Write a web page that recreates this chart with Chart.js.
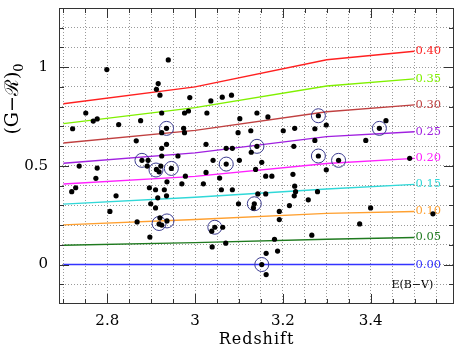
<!DOCTYPE html>
<html>
<head>
<meta charset="utf-8">
<script src="https://cdn.jsdelivr.net/npm/chart.js@4.4.1/dist/chart.umd.min.js"></script>
<style>
  html, body { margin: 0; padding: 0; background: #fff; }
  #wrap { width: 464px; height: 350px; }
</style>
</head>
<body>
<div id="wrap"><canvas id="chart" width="464" height="350"></canvas></div>
<script>
// galaxies: redshift and (G-R)0 colour
const dotZ = [
  2.939, 2.799, 2.916, 2.912, 2.920, 2.988, 2.751, 2.768, 2.777, 2.826,
  2.876, 2.924, 2.976, 2.985, 2.721, 2.935, 2.924, 2.974, 2.976, 2.866,
  2.935, 2.924, 2.924, 2.961, 2.879, 2.893, 2.736, 2.777, 2.891, 2.922,
  2.946, 2.912, 2.918, 3.036, 3.062, 3.083, 3.027, 3.102, 3.141, 3.166,
  3.098, 3.127, 3.201, 3.227, 3.273, 3.281, 3.025, 3.071, 3.085, 3.141,
  3.128, 3.225, 3.273, 3.041, 3.071, 3.101, 3.152, 3.138, 3.281, 3.299,
  3.420, 3.435, 3.389, 3.327, 3.489, 3.299,
  2.774, 2.978, 2.970, 2.728, 2.719, 2.896, 2.910, 2.930, 2.936, 2.935,
  2.915, 2.820, 2.899, 2.910, 2.806, 2.868, 2.920, 2.918, 2.924, 2.936,
  2.897, 3.025, 3.161, 3.175, 3.223, 3.019, 3.056, 3.060, 3.085, 3.227,
  3.229, 3.226, 3.279, 3.258, 3.143, 3.161, 3.099, 3.135, 3.133, 3.215,
  3.192, 3.192, 3.045, 3.038, 3.063, 3.181, 3.266, 3.070, 3.039, 3.162,
  3.188, 3.152, 3.162, 3.400, 3.375, 3.542
];
const dotColor = [
  1.037, 0.988, 0.917, 0.888, 0.858, 0.846, 0.768, 0.727, 0.738, 0.709,
  0.729, 0.768, 0.768, 0.778, 0.688, 0.690, 0.668, 0.690, 0.668, 0.627,
  0.609, 0.589, 0.550, 0.550, 0.528, 0.528, 0.499, 0.489, 0.499, 0.499,
  0.487, 0.482, 0.470, 0.829, 0.848, 0.858, 0.768, 0.739, 0.768, 0.748,
  0.668, 0.678, 0.678, 0.690, 0.688, 0.754, 0.609, 0.589, 0.589, 0.599,
  0.569, 0.599, 0.629, 0.528, 0.509, 0.528, 0.518, 0.482, 0.550, 0.707,
  0.690, 0.729, 0.629, 0.528, 0.538, 0.480,
  0.437, 0.448, 0.409, 0.389, 0.369, 0.389, 0.379, 0.379, 0.419, 0.348,
  0.338, 0.348, 0.308, 0.287, 0.269, 0.216, 0.237, 0.205, 0.200, 0.221,
  0.139, 0.467, 0.448, 0.448, 0.457, 0.409, 0.438, 0.379, 0.379, 0.397,
  0.369, 0.348, 0.369, 0.328, 0.358, 0.358, 0.308, 0.308, 0.287, 0.299,
  0.269, 0.228, 0.189, 0.169, 0.189, 0.128, 0.149, 0.108, 0.089, 0.057,
  0.068, 0.000, -0.051, 0.287, 0.206, 0.257
];

// objects marked with an open circle
const ringZ = [2.935, 2.879, 2.911, 2.946, 3.071, 3.141, 3.281, 3.281, 3.327, 3.420,
               2.918, 2.936, 3.045, 3.135, 3.152];
const ringColor = [0.690, 0.528, 0.479, 0.487, 0.509, 0.599, 0.754, 0.550, 0.528, 0.690,
                   0.208, 0.221, 0.189, 0.308, 0.000];

// model tracks, one per E(B-V)
const trackZ = [2.7, 3.0, 3.3, 3.5];
const ebvLabels = ['0.00', '0.05', '0.10', '0.15', '0.20', '0.25', '0.30', '0.35', '0.40'];
const ebvTracks = [
  [0.000, 0.000, 0.000, 0.000],
  [0.098, 0.111, 0.128, 0.137],
  [0.201, 0.228, 0.259, 0.269],
  [0.306, 0.341, 0.383, 0.406],
  [0.408, 0.447, 0.512, 0.538],
  [0.513, 0.566, 0.648, 0.673],
  [0.616, 0.680, 0.774, 0.809],
  [0.714, 0.795, 0.905, 0.941],
  [0.815, 0.900, 1.038, 1.081]
];
const ebvColors = ['#3333ff', '#1f7a1f', '#ffa030', '#30d8d8', '#ff20ff',
                   '#a020e0', '#c04040', '#80f000', '#ff2020'];

const xTickValues = [2.8, 3.0, 3.2, 3.4];
const xTickLabels = ['2.8', '3', '3.2', '3.4'];
const yTickValues = [0, 0.5, 1];
const yTickLabels = ['0', '0.5', '1'];

const SERIF = '"DejaVu Serif", serif';

function pickLabel(v, values, labels) {
  for (let i = 0; i < values.length; i++) {
    if (Math.abs(v - values[i]) < 1e-6) return labels[i];
  }
  return '';
}

const datasets = [
  {
    label: 'galaxies',
    data: dotZ.map((z, i) => ({ x: z, y: dotColor[i] })),
    pointRadius: 2.6,
    pointBackgroundColor: '#000',
    pointBorderWidth: 0,
    showLine: false
  },
  {
    label: 'marked',
    data: ringZ.map((z, i) => ({ x: z, y: ringColor[i] })),
    pointRadius: 7,
    pointBackgroundColor: 'rgba(0,0,0,0)',
    pointBorderColor: '#3c3c90',
    pointBorderWidth: 1,
    showLine: false
  }
];
ebvTracks.forEach((vals, k) => {
  datasets.push({
    label: 'E(B-V)=' + ebvLabels[k],
    ebv: ebvLabels[k],
    data: trackZ.map((z, i) => ({ x: z, y: vals[i] })),
    borderColor: ebvColors[k],
    borderWidth: 1.4,
    pointRadius: 0,
    showLine: true,
    tension: 0
  });
});

const decor = {
  id: 'decor',
  afterDatasetDraw(chart, args) {
    const ds = chart.data.datasets[args.index];
    if (!ds.ebv) return;
    const { ctx, scales: { x, y } } = chart;
    const last = ds.data[ds.data.length - 1];
    ctx.save();
    ctx.font = '11.5px ' + SERIF;
    ctx.fillStyle = ds.borderColor;
    ctx.textAlign = 'left';
    ctx.textBaseline = 'middle';
    ctx.fillText(ds.ebv, x.getPixelForValue(last.x) + 1, y.getPixelForValue(last.y));
    ctx.restore();
  },
  afterDraw(chart) {
    const { ctx, chartArea: a, scales: { x, y } } = chart;
    ctx.save();
    ctx.strokeStyle = '#333';
    ctx.lineWidth = 1;
    ctx.strokeRect(Math.round(a.left) + 0.5, Math.round(a.top) + 0.5,
                   Math.round(a.width) - 1, Math.round(a.height) - 1);

    // inward tick marks on all four sides
    ctx.beginPath();
    for (let i = 54; i <= 71; i++) {
      const px = Math.round(x.getPixelForValue(i * 0.05)) + 0.5;
      const len = i % 4 === 0 ? 10 : 5;
      ctx.moveTo(px, a.bottom); ctx.lineTo(px, a.bottom - len);
      ctx.moveTo(px, a.top); ctx.lineTo(px, a.top + len);
    }
    for (let j = -1; j <= 12; j++) {
      const py = Math.round(y.getPixelForValue(j * 0.1)) + 0.5;
      const len = j % 5 === 0 ? 10 : 5;
      ctx.moveTo(a.left, py); ctx.lineTo(a.left + len, py);
      ctx.moveTo(a.right, py); ctx.lineTo(a.right - len, py);
    }
    ctx.stroke();

    // axis titles
    ctx.fillStyle = '#000';
    ctx.font = '16px ' + SERIF;
    ctx.textAlign = 'center';
    ctx.textBaseline = 'middle';
    ctx.letterSpacing = '1px';
    ctx.fillText('Redshift', (a.left + a.right) / 2, 340);
    ctx.letterSpacing = '0px';

    ctx.save();
    ctx.translate(13, 99);
    ctx.rotate(-Math.PI / 2);
    const main = '(G\u2212\u211B)';
    ctx.font = '19px ' + SERIF;
    const w = ctx.measureText(main).width;
    ctx.font = '13px ' + SERIF;
    const sw = ctx.measureText('0').width;
    const start = -(w + sw) / 2;
    ctx.textAlign = 'left';
    ctx.font = '19px ' + SERIF;
    ctx.fillText(main, start, 0);
    ctx.font = '13px ' + SERIF;
    ctx.fillText('0', start + w, 7);
    ctx.restore();

    ctx.font = '11px ' + SERIF;
    ctx.textAlign = 'center';
    ctx.fillText('E(B\u2212V)', x.getPixelForValue(3.495), y.getPixelForValue(-0.105));
    ctx.restore();
  }
};

new Chart(document.getElementById('chart'), {
  type: 'scatter',
  data: { datasets },
  options: {
    responsive: false,
    animation: false,
    devicePixelRatio: 1,
    layout: { padding: { top: 8, right: 10, left: 0, bottom: 0 } },
    plugins: { legend: { display: false }, tooltip: { enabled: false } },
    scales: {
      x: {
        type: 'linear',
        min: 2.69,
        max: 3.59,
        afterBuildTicks(scale) {
          const t = [];
          for (let i = 54; i <= 71; i++) t.push({ value: i * 0.05 });
          scale.ticks = t;
        },
        afterFit(scale) {
          scale.height = 46;
          scale.paddingLeft = 0;
          scale.paddingRight = 0;
        },
        grid: { color: '#9a9a9a', lineWidth: 1, drawTicks: false },
        border: { display: false, dash: [1, 2] },
        ticks: {
          autoSkip: false,
          maxRotation: 0,
          padding: 8,
          color: '#000',
          font: { family: SERIF, size: 15 },
          callback: (v) => pickLabel(v, xTickValues, xTickLabels)
        }
      },
      y: {
        type: 'linear',
        min: -0.2,
        max: 1.3,
        afterBuildTicks(scale) {
          const t = [];
          for (let j = -1; j <= 12; j++) t.push({ value: j * 0.1 });
          scale.ticks = t;
        },
        afterFit(scale) {
          scale.width = 59;
          scale.paddingTop = 0;
          scale.paddingBottom = 0;
        },
        grid: { color: '#9a9a9a', lineWidth: 1, drawTicks: false },
        border: { display: false, dash: [1, 2] },
        ticks: {
          autoSkip: false,
          padding: 11,
          color: '#000',
          font: { family: SERIF, size: 15 },
          callback: (v) => pickLabel(v, yTickValues, yTickLabels)
        }
      }
    }
  },
  plugins: [decor]
});
</script>
</body>
</html>
